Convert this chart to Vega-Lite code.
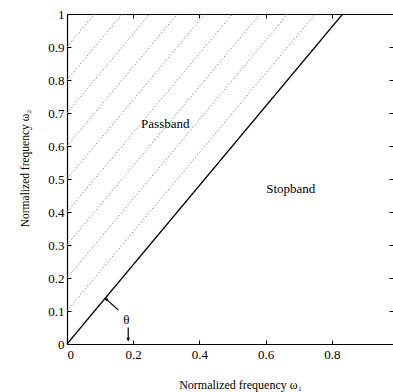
{
  "$schema": "https://vega.github.io/schema/vega-lite/v6.json",
  "width": 326,
  "height": 330,
  "autosize": {"type": "none"},
  "padding": {"left": 67, "top": 14, "right": 0, "bottom": 48},
  "background": "white",
  "config": {
    "view": {"stroke": null},
    "font": "Liberation Serif",
    "axis": {"labelFont": "Liberation Serif", "titleFont": "Liberation Serif", "labelColor": "black", "titleColor": "black", "domainColor": "black", "tickColor": "black", "grid": false, "titleFontWeight": "normal", "labelFontSize": 13, "titleFontSize": 12}
  },
  "datasets": {
    "hatch": [
      {"x1": 0, "y1": 0.1, "x2": 0.75, "y2": 1},
      {"x1": 0, "y1": 0.2, "x2": 0.6667, "y2": 1},
      {"x1": 0, "y1": 0.3, "x2": 0.5833, "y2": 1},
      {"x1": 0, "y1": 0.4, "x2": 0.5, "y2": 1},
      {"x1": 0, "y1": 0.5, "x2": 0.4167, "y2": 1},
      {"x1": 0, "y1": 0.6, "x2": 0.3333, "y2": 1},
      {"x1": 0, "y1": 0.7, "x2": 0.25, "y2": 1},
      {"x1": 0, "y1": 0.8, "x2": 0.1667, "y2": 1},
      {"x1": 0, "y1": 0.9, "x2": 0.0833, "y2": 1}
    ],
    "solid": [
      {"x1": 0, "y1": 0, "x2": 0.833, "y2": 1},
      {"x1": 0.115, "y1": 0.139, "x2": 0.155, "y2": 0.103},
      {"x1": 0.185, "y1": 0.05, "x2": 0.185, "y2": 0.01}
    ],
    "heads": [
      {"x": 0.118, "y": 0.136, "angle": 313},
      {"x": 0.185, "y": 0.014, "angle": 180}
    ],
    "labels": [
      {"x": 0.297, "y": 0.667, "text": "Passband"},
      {"x": 0.676, "y": 0.47, "text": "Stopband"},
      {"x": 0.179, "y": 0.073, "text": "θ"}
    ]
  },
  "resolve": {"axis": {"x": "independent", "y": "independent"}},
  "layer": [
    {
      "data": {"name": "hatch"},
      "mark": {"type": "rule", "color": "#7a7a7a", "strokeDash": [1.5, 2], "strokeWidth": 0.9},
      "encoding": {
        "x": {"field": "x1", "type": "quantitative", "scale": {"domain": [0, 0.985], "nice": false, "zero": false},
          "axis": {"orient": "bottom", "values": [0, 0.2, 0.4, 0.6, 0.8], "format": "~g", "tickSize": -4, "labelPadding": 8, "title": "Normalized frequency  ω₁", "titleX": 173, "titleY": 40, "titleBaseline": "middle", "titleAlign": "center", "domainWidth": 1.2}},
        "y": {"field": "y1", "type": "quantitative", "scale": {"domain": [0, 1], "nice": false},
          "axis": {"orient": "left", "values": [0, 0.1, 0.2, 0.3, 0.4, 0.5, 0.6, 0.7, 0.8, 0.9, 1], "format": "~g", "tickSize": -4, "labelPadding": 7, "title": "Normalized frequency  ω₂", "titleFontSize": 11.5, "titleX": -42, "titleY": 154, "titleBaseline": "middle", "titleAlign": "center", "titleAngle": 270, "domainWidth": 1.2}},
        "x2": {"field": "x2"},
        "y2": {"field": "y2"}
      }
    },
    {
      "data": {"name": "solid"},
      "mark": {"type": "rule", "color": "black", "strokeWidth": 1.2},
      "encoding": {
        "x": {"field": "x1", "type": "quantitative", "axis": {"orient": "top", "values": [0, 0.2, 0.4, 0.6, 0.8], "labels": false, "tickSize": -4, "title": null, "domainWidth": 1.2}},
        "y": {"field": "y1", "type": "quantitative", "axis": {"orient": "right", "values": [0.1, 0.2, 0.3, 0.4, 0.5, 0.6, 0.7, 0.8, 0.9], "labels": false, "domain": false, "tickSize": -4, "title": null}},
        "x2": {"field": "x2"},
        "y2": {"field": "y2"}
      }
    },
    {
      "data": {"name": "heads"},
      "mark": {"type": "point", "shape": "triangle-up", "filled": true, "color": "black", "size": 14, "opacity": 1},
      "encoding": {
        "x": {"field": "x", "type": "quantitative", "axis": null},
        "y": {"field": "y", "type": "quantitative", "axis": null},
        "angle": {"field": "angle", "type": "quantitative", "scale": null}
      }
    },
    {
      "data": {"name": "labels"},
      "mark": {"type": "text", "font": "Liberation Serif", "fontSize": 13, "color": "black"},
      "encoding": {
        "x": {"field": "x", "type": "quantitative", "axis": null},
        "y": {"field": "y", "type": "quantitative", "axis": null},
        "text": {"field": "text"}
      }
    }
  ]
}
